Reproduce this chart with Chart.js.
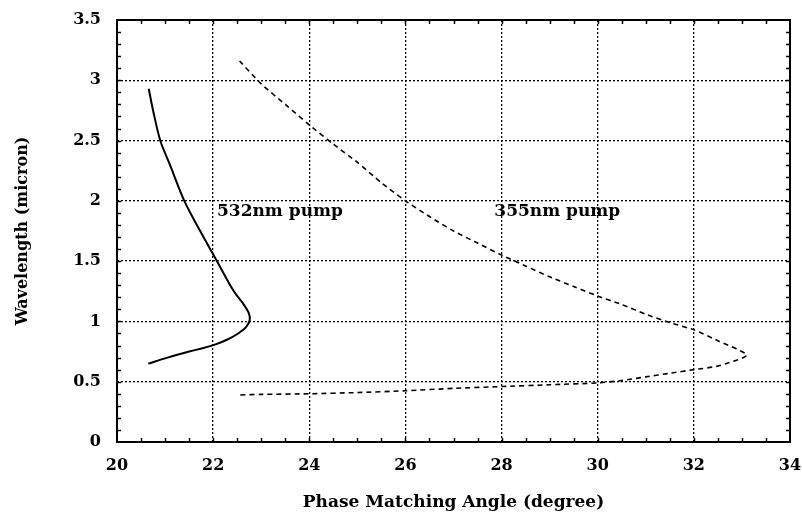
<!DOCTYPE html>
<html>
<head>
<meta charset="utf-8">
<script src="https://cdn.jsdelivr.net/npm/chart.js@4.4.1/dist/chart.umd.min.js"></script>
<style>
  html, body { margin: 0; padding: 0; background: #fff; }
</style>
</head>
<body>
<canvas id="phaseChart" width="802" height="515"></canvas>
<script>
// 532nm pump curve (angle in degree, wavelength in micron)
const angle532 = [20.65, 21.05, 21.5, 21.8, 22.05, 22.3, 22.52, 22.68, 22.76, 22.74, 22.62, 22.43, 22.08, 21.73, 21.4, 21.1, 20.9, 20.75, 20.66];
const wl532    = [0.65, 0.70, 0.75, 0.78, 0.81, 0.85, 0.90, 0.95, 1.01, 1.07, 1.15, 1.25, 1.50, 1.75, 2.00, 2.30, 2.50, 2.75, 2.93];

// 355nm pump curve
const angle355 = [22.55, 23.0, 23.5, 24.0, 24.5, 25.0, 25.5, 26.0, 26.5, 27.0, 27.5, 28.0, 28.5, 29.0, 29.5, 30.0, 30.5, 31.0, 31.5, 32.0, 32.5, 33.1,
                  32.5, 32.0, 31.5, 31.0, 30.5, 30.0, 29.0, 28.0, 27.0, 26.0, 25.0, 24.0, 23.0, 22.55];
const wl355    = [3.16, 2.97, 2.80, 2.63, 2.47, 2.32, 2.15, 2.00, 1.87, 1.75, 1.65, 1.55, 1.46, 1.37, 1.29, 1.21, 1.14, 1.06, 0.99, 0.93, 0.84, 0.72,
                  0.63, 0.60, 0.57, 0.54, 0.51, 0.49, 0.475, 0.46, 0.445, 0.425, 0.41, 0.40, 0.395, 0.39];

// curve labels and where they sit (data units)
const curveLabels = ['532nm pump', '355nm pump'];
const labelAngles = [22.08, 27.85];
const labelWls    = [1.915, 1.915];

const serif = "'DejaVu Serif', 'Liberation Serif', serif";

function toPoints(xs, ys) {
    return xs.map((x, i) => ({ x: x, y: ys[i] }));
}

// frame, inward minor ticks and the curve labels
const decorations = {
    id: 'decorations',
    afterDatasetsDraw(chart) {
        const ctx = chart.ctx;
        const { left, right, top, bottom } = chart.chartArea;
        const xs = chart.scales.x, ys = chart.scales.y;
        ctx.save();
        ctx.strokeStyle = '#000';
        ctx.lineWidth = 1.5;
        ctx.beginPath();
        for (let v = 20.5; v < 34; v += 0.5) {
            const px = Math.round(xs.getPixelForValue(v)) + 0.5;
            ctx.moveTo(px, bottom); ctx.lineTo(px, bottom - 4);
            ctx.moveTo(px, top); ctx.lineTo(px, top + 4);
        }
        for (let i = 1; i < 35; i++) {
            const py = Math.round(ys.getPixelForValue(i / 10)) + 0.5;
            ctx.moveTo(left, py); ctx.lineTo(left + 4, py);
            ctx.moveTo(right, py); ctx.lineTo(right - 4, py);
        }
        ctx.stroke();

        ctx.lineWidth = 2;
        ctx.strokeRect(left, top, right - left, bottom - top);

        ctx.fillStyle = '#000';
        ctx.font = "bold 17px " + serif;
        ctx.textBaseline = 'middle';
        ctx.textAlign = 'left';
        curveLabels.forEach((txt, i) => {
            ctx.fillText(txt, xs.getPixelForValue(labelAngles[i]), ys.getPixelForValue(labelWls[i]));
        });
        ctx.restore();
    }
};

const gridColor = (min, max) => (c) => {
    const v = c.tick ? c.tick.value : null;
    return (v === min || v === max) ? 'rgba(0,0,0,0)' : '#000';
};

new Chart(document.getElementById('phaseChart'), {
    type: 'scatter',
    data: {
        datasets: [{
            label: '532nm pump',
            data: toPoints(angle532, wl532),
            showLine: true,
            borderColor: '#000',
            borderWidth: 2,
            pointRadius: 0,
            tension: 0.3
        }, {
            label: '355nm pump',
            data: toPoints(angle355, wl355),
            showLine: true,
            borderColor: '#000',
            borderWidth: 1.6,
            borderDash: [5, 4],
            pointRadius: 0,
            tension: 0.2
        }]
    },
    options: {
        responsive: false,
        animation: false,
        devicePixelRatio: 1,
        layout: { padding: { top: 20, right: 12, left: 0, bottom: 0 } },
        plugins: {
            legend: { display: false },
            tooltip: { enabled: false }
        },
        scales: {
            x: {
                type: 'linear',
                min: 20,
                max: 34,
                ticks: {
                    stepSize: 2,
                    padding: 14,
                    color: '#000',
                    maxRotation: 0,
                    font: { family: serif, weight: 'bold', size: 16 }
                },
                grid: { color: gridColor(20, 34), lineWidth: 1.3, drawTicks: false },
                border: { display: false, dash: [2, 2] },
                title: {
                    display: true,
                    text: 'Phase Matching Angle (degree)',
                    color: '#000',
                    font: { family: serif, weight: 'bold', size: 17 },
                    padding: { top: 0, bottom: 2 }
                },
                afterFit: (scale) => {
                    scale.height = 73;
                    scale.paddingLeft = 0;
                    scale.paddingRight = 0;
                }
            },
            y: {
                type: 'linear',
                min: 0,
                max: 3.5,
                ticks: {
                    stepSize: 0.5,
                    padding: 16,
                    color: '#000',
                    font: { family: serif, weight: 'bold', size: 16 },
                    callback: (v) => String(v)
                },
                grid: { color: gridColor(0, 3.5), lineWidth: 1.3, drawTicks: false },
                border: { display: false, dash: [2, 2] },
                title: {
                    display: true,
                    text: 'Wavelength (micron)',
                    color: '#000',
                    font: { family: serif, weight: 'bold', size: 16 },
                    padding: { top: 13, bottom: 0 }
                },
                afterFit: (scale) => {
                    scale.width = 117;
                    scale.paddingTop = 0;
                    scale.paddingBottom = 0;
                }
            }
        }
    },
    plugins: [decorations]
});
</script>
</body>
</html>
